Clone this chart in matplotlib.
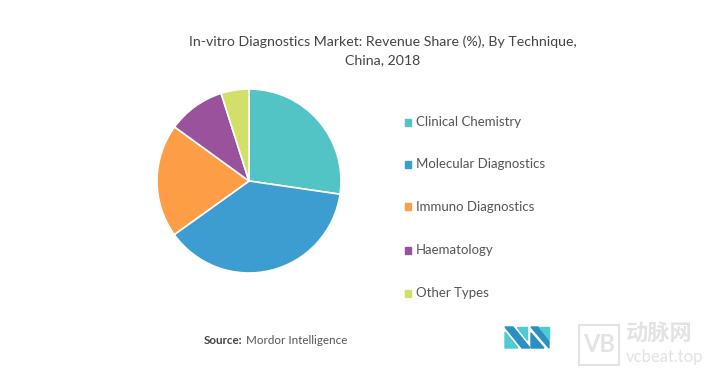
import matplotlib.pyplot as plt
from matplotlib.patches import Rectangle, Polygon

plt.rcParams['font.family'] = ['Lato', 'Noto Sans CJK SC', 'DejaVu Sans']

# data
labels = ['Clinical Chemistry', 'Molecular Diagnostics', 'Immuno Diagnostics',
          'Haematology', 'Other Types']
shares = [27.3, 37.8, 19.9, 10.1, 4.9]
colors = ['#52c4c6', '#3d9dd0', '#fd9d45', '#9b529d', '#d2e06a']

W, H = 726, 377
fig = plt.figure(figsize=(W / 100, H / 100), dpi=100)
fig.patch.set_facecolor('white')

# pie axes: center (249,181), radius 92 px
r = 92
cx, cy = 249, 181
ax = fig.add_axes([(cx - r) / W, 1 - (cy + r) / H, 2 * r / W, 2 * r / H])
ax.pie(shares, colors=colors, startangle=90, counterclock=False,
       wedgeprops=dict(edgecolor='white', linewidth=1.2))
ax.set_aspect('equal')
ax.set_xlim(-1, 1)
ax.set_ylim(-1, 1)

# title
fig.text(383 / W, 1 - 42 / H, 'In-vitro Diagnostics Market: Revenue Share (%), By Technique,',
         ha='center', va='center', fontsize=10.2, color='#444444')
fig.text(383 / W, 1 - 60 / H, 'China, 2018',
         ha='center', va='center', fontsize=10.2, color='#444444')

# legend
ys = [122, 164, 207, 250, 293]
for lab, col, y in zip(labels, colors, ys):
    fig.patches.append(Rectangle((405 / W, 1 - (y + 3.5) / H), 6.5 / W, 7 / H,
                                 transform=fig.transFigure, color=col))
    fig.text(416 / W, 1 - y / H, lab, ha='left', va='center',
             fontsize=9.5, color='#555555')

# source
fig.text(204 / W, 1 - 340 / H, 'Source:', ha='left', va='center',
         fontsize=8.4, color='#444444', fontweight='bold')
fig.text(246 / W, 1 - 340 / H, 'Mordor Intelligence', ha='left', va='center',
         fontsize=8.4, color='#555555')

# logo (rough)
def poly(pts, col):
    fig.patches.append(Polygon([(x / W, 1 - y / H) for x, y in pts], closed=True,
                               transform=fig.transFigure, color=col))

poly([(505, 327), (513, 327), (530, 348), (522, 348)], '#2b8fc2')
poly([(505, 332), (518, 348), (505, 348)], '#4ecbd0')
poly([(517, 327), (527, 327), (527, 340)], '#4ecbd0')
poly([(531, 327), (538, 327), (549, 341), (549, 348), (531, 327)], '#2b8fc2')
poly([(539, 327), (549, 327), (549, 339)], '#4ecbd0')
poly([(531, 333), (544, 348), (531, 348)], '#2b8fc2')

# watermark
fig.patches.append(Rectangle((579 / W, 1 - 365 / H), 40 / W, 40 / H, transform=fig.transFigure,
                             fill=False, edgecolor='#e3e3e3', linewidth=1.5))
fig.text(599 / W, 1 - 345 / H, 'VB', ha='center', va='center', fontsize=17,
         color='#e3e3e3', fontweight='bold')
fig.text(626 / W, 1 - 334 / H, '动脉网', ha='left', va='center', fontsize=16,
         color='#e3e3e3', fontweight='bold')
fig.text(626 / W, 1 - 357 / H, 'vcbeat.top', ha='left', va='center', fontsize=12,
         color='#e3e3e3')

fig.savefig('out.png', dpi=100, facecolor='white')
